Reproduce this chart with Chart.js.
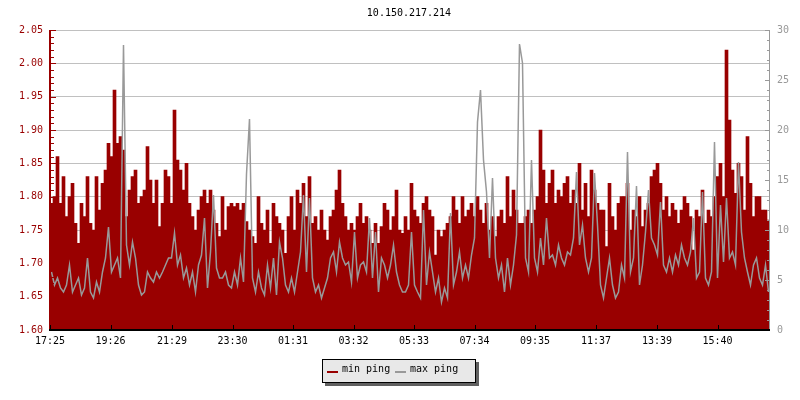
<!DOCTYPE html>
<html>
<head>
<meta charset="utf-8">
<script src="https://cdn.jsdelivr.net/npm/chart.js@4/dist/chart.umd.min.js"></script>
<style>
  html, body { margin: 0; padding: 0; background: #fff; }
  #wrap { position: relative; width: 800px; height: 400px; }
  #c { position: absolute; left: 0; top: 0; }
  .mono { font-family: 'DejaVu Sans Mono', monospace; font-size: 10px; line-height: 12px; color: #000; }
  #title { position: absolute; left: 309px; top: 7px; width: 200px; text-align: center; }
  #legend { position: absolute; left: 322px; top: 359px; width: 154px; height: 24px; box-sizing: border-box;
            border: 1px solid #000; background: #e8e8e8; box-shadow: 3px 3px 0 #606060; }
  #legend .sw { position: absolute; top: 11px; width: 11px; height: 2px; }
  #legend .tx { position: absolute; top: 3px; white-space: pre; }
</style>
</head>
<body>
<div id="wrap">
  <canvas id="c" width="800" height="400"></canvas>
  <div id="title" class="mono">10.150.217.214</div>
  <div id="legend" class="mono">
    <span class="sw" style="left:4px;background:#990000"></span><span class="tx" style="left:19px">min ping</span>
    <span class="sw" style="left:72px;background:#999999"></span><span class="tx" style="left:87px">max ping</span>
  </div>
</div>
<script>
// ---- data (one value per 6-minute column, left to right) ----
const minPing = [
  1.79,1.80,1.86,1.79,1.83,1.77,1.80,1.82,1.76,1.73,
  1.79,1.77,1.83,1.76,1.75,1.83,1.78,1.82,1.84,1.88,
  1.86,1.96,1.88,1.89,1.87,1.77,1.81,1.83,1.84,1.79,
  1.80,1.81,1.875,1.825,1.79,1.825,1.755,1.79,1.84,1.83,
  1.79,1.93,1.855,1.84,1.81,1.85,1.79,1.77,1.75,1.78,
  1.80,1.81,1.79,1.81,1.78,1.76,1.74,1.80,1.75,1.785,
  1.79,1.785,1.79,1.78,1.79,1.7625,1.75,1.74,1.73,1.80,
  1.76,1.75,1.78,1.73,1.79,1.77,1.76,1.75,1.715,1.77,
  1.80,1.75,1.81,1.79,1.82,1.77,1.83,1.76,1.77,1.75,
  1.78,1.75,1.735,1.77,1.78,1.81,1.84,1.79,1.77,1.75,
  1.76,1.75,1.77,1.79,1.76,1.77,1.75,1.73,1.76,1.73,
  1.755,1.79,1.78,1.75,1.77,1.81,1.75,1.745,1.77,1.75,
  1.82,1.78,1.77,1.76,1.79,1.80,1.78,1.77,1.7125,1.75,
  1.74,1.75,1.76,1.77,1.80,1.78,1.76,1.80,1.77,1.78,
  1.79,1.77,1.80,1.78,1.76,1.79,1.75,1.77,1.74,1.77,
  1.78,1.76,1.83,1.77,1.81,1.78,1.76,1.76,1.77,1.78,
  1.76,1.78,1.80,1.90,1.84,1.79,1.82,1.84,1.79,1.81,
  1.80,1.82,1.83,1.79,1.81,1.79,1.85,1.78,1.82,1.77,
  1.84,1.81,1.79,1.78,1.78,1.725,1.82,1.77,1.75,1.79,
  1.80,1.80,1.82,1.75,1.78,1.77,1.80,1.755,1.78,1.79,
  1.83,1.84,1.85,1.82,1.78,1.80,1.77,1.79,1.78,1.76,
  1.78,1.80,1.79,1.77,1.72,1.78,1.77,1.81,1.76,1.78,
  1.77,1.80,1.83,1.85,1.80,2.02,1.915,1.84,1.805,1.85,
  1.83,1.78,1.89,1.82,1.77,1.80,1.80,1.78,1.78,1.765
];
const maxPing = [
  5.8,4.5,5.2,4.2,3.8,4.5,6.5,3.8,4.5,5.2,
  3.5,4.2,7.2,3.8,3.2,4.8,3.8,5.8,7.2,10.3,
  5.8,6.5,7.2,5.2,28.5,8.5,6.5,8.8,7.2,4.5,
  3.5,3.8,5.8,5.2,4.8,5.8,5.2,5.8,6.5,7.2,
  7.2,9.7,6.5,7.5,5.2,6.2,4.5,5.8,3.8,6.5,
  7.5,11.2,4.2,7.8,13.5,6.2,5.2,5.2,5.8,4.5,
  4.2,5.8,4.5,7.2,4.8,15.6,21.1,5.2,3.8,5.8,
  4.2,3.5,6.5,4.2,7.2,3.5,8.8,7.2,4.5,3.8,
  5.2,3.8,5.8,7.8,13.5,5.8,13.2,5.2,3.8,4.5,
  3.2,4.2,5.2,7.2,7.8,5.8,8.8,7.2,6.5,6.8,
  4.8,9.8,5.2,6.5,6.8,5.8,11.2,5.2,9.8,3.8,
  7.2,6.5,5.2,6.5,8.5,5.8,4.5,3.8,3.8,4.5,
  9.8,4.5,3.8,3.2,12.0,4.5,7.8,5.8,3.8,5.2,
  2.8,4.2,3.2,11.7,4.5,5.8,7.8,5.2,6.5,5.2,
  7.5,9.2,20.8,24.0,17.0,13.8,7.2,15.2,7.2,5.2,
  6.5,3.8,7.2,4.5,6.5,9.5,28.6,26.7,7.2,5.8,
  17.0,7.2,5.8,9.2,6.5,11.2,7.2,7.5,6.5,8.5,
  7.2,6.5,7.8,7.5,9.2,15.8,8.5,10.5,7.2,5.8,
  7.2,15.7,10.5,4.5,3.2,5.2,7.2,4.5,3.2,3.8,
  6.5,5.2,17.8,5.8,7.2,14.4,4.5,6.5,9.8,14.0,
  9.2,8.5,7.5,12.8,6.5,5.8,7.2,5.8,7.5,6.5,
  8.5,7.2,6.5,7.8,11.2,5.2,5.8,13.8,5.2,4.5,
  5.8,18.8,5.2,12.5,6.8,13.2,7.2,7.8,6.5,16.8,
  9.8,7.2,5.8,4.5,6.5,7.2,5.2,4.5,6.5,3.8
];
const columnMinutes = 6;           // each value covers 6 minutes
const spanMinutes = 1440;          // 24 hours shown
const timeTickMinutes = [0,121,244,365,486,607,728,849,970,1092,1214,1335];
const timeTickLabels = ['17:25','19:26','21:29','23:30','01:31','03:32','05:33','07:34','09:35','11:37','13:39','15:40'];
const leftMin = 1.60, leftMax = 2.05, leftMinorStep = 0.01, leftMajorStep = 0.05;
const rightMin = 0, rightMax = 30, rightMinorStep = 1, rightMajorStep = 5;

// ---- helpers ----
const RED = '#990000', GRAY = '#999999';
const FONT = { family: "'DejaVu Sans Mono', monospace", size: 10 };
const isMajor = (v, step) => Math.abs(v / step - Math.round(v / step)) < 1e-6;
const makeTicks = (min, max, step) => {
  const out = []; const n = Math.round((max - min) / step);
  for (let k = 0; k <= n; k++) out.push({ value: Math.round((min + k * step) * 1000) / 1000 });
  return out;
};
const toPoints = arr => arr.map((v, i) => ({ x: i * columnMinutes + columnMinutes / 2, y: v }));

const axisDecor = {
  id: 'axisDecor',
  afterDatasetsDraw(chart) {
    const { ctx, chartArea: a, scales } = chart;
    ctx.save();
    ctx.lineWidth = 1;
    const hline = (x1, x2, y) => { ctx.beginPath(); ctx.moveTo(x1, y); ctx.lineTo(x2, y); ctx.stroke(); };
    const vline = (x, y1, y2) => { ctx.beginPath(); ctx.moveTo(x, y1); ctx.lineTo(x, y2); ctx.stroke(); };
    // left axis ticks (inward)
    ctx.strokeStyle = RED;
    scales.y.ticks.forEach(t => {
      const p = Math.round(scales.y.getPixelForValue(t.value)) + 0.5;
      hline(a.left, a.left + (isMajor(t.value, leftMajorStep) ? 6 : 4), p);
    });
    ctx.lineWidth = 2;
    vline(a.left, a.top, a.bottom);
    // right axis ticks (inward)
    ctx.lineWidth = 1;
    ctx.strokeStyle = GRAY;
    scales.y1.ticks.forEach(t => {
      const p = Math.round(scales.y1.getPixelForValue(t.value)) + 0.5;
      hline(a.right - (isMajor(t.value, rightMajorStep) ? 5 : 3), a.right, p);
    });
    vline(Math.round(a.right) - 0.5, a.top, a.bottom);
    // bottom axis ticks (inward)
    ctx.strokeStyle = '#000';
    scales.x.ticks.forEach(t => {
      const p = Math.round(scales.x.getPixelForValue(t.value)) + 0.5;
      vline(p, a.bottom - 5, a.bottom);
    });
    ctx.lineWidth = 2;
    hline(a.left - 1, a.right, a.bottom);
    ctx.restore();
  }
};

new Chart(document.getElementById('c'), {
  type: 'bar',
  data: {
    datasets: [
      {
        type: 'line', label: 'max ping', data: toPoints(maxPing), yAxisID: 'y1',
        borderColor: GRAY, borderWidth: 1.5, pointRadius: 0, tension: 0, fill: false, order: 0,
        borderJoinStyle: 'miter', borderCapStyle: 'butt'
      },
      {
        type: 'bar', label: 'min ping', data: toPoints(minPing), yAxisID: 'y',
        backgroundColor: RED, borderWidth: 0, barPercentage: 1, categoryPercentage: 1,
        grouped: false, clip: 0, order: 1
      }
    ]
  },
  options: {
    responsive: false, animation: false, devicePixelRatio: 1,
    layout: { padding: { top: 30, left: 0, right: 0, bottom: 0 } },
    plugins: { legend: { display: false }, tooltip: { enabled: false }, title: { display: false } },
    scales: {
      x: {
        type: 'linear', min: 0, max: spanMinutes, offset: false,
        grid: { display: false, drawTicks: false }, border: { display: false },
        afterBuildTicks: s => { s.ticks = timeTickMinutes.map(v => ({ value: v })); },
        ticks: {
          autoSkip: false, maxRotation: 0, color: '#000', font: FONT, padding: 5,
          callback: v => { const k = timeTickMinutes.indexOf(v); return k >= 0 ? timeTickLabels[k] : ''; }
        },
        afterFit: s => { s.height = 70; }
      },
      y: {
        type: 'linear', position: 'left', min: leftMin, max: leftMax,
        grid: {
          drawTicks: false,
          color: c => (c.tick && isMajor(c.tick.value, leftMajorStep)) ? '#c0c0c0' : 'rgba(0,0,0,0)'
        },
        border: { display: false },
        afterBuildTicks: s => { s.ticks = makeTicks(leftMin, leftMax, leftMinorStep); },
        ticks: {
          autoSkip: false, color: RED, font: FONT, padding: 7,
          callback: v => isMajor(v, leftMajorStep) ? v.toFixed(2) : ''
        },
        afterFit: s => { s.width = 50; }
      },
      y1: {
        type: 'linear', position: 'right', min: rightMin, max: rightMax,
        grid: { display: false, drawTicks: false }, border: { display: false },
        afterBuildTicks: s => { s.ticks = makeTicks(rightMin, rightMax, rightMinorStep); },
        ticks: {
          autoSkip: false, color: GRAY, font: FONT, padding: 7,
          callback: v => isMajor(v, rightMajorStep) ? String(Math.round(v)) : ''
        },
        afterFit: s => { s.width = 30; }
      }
    }
  },
  plugins: [axisDecor]
});
</script>
</body>
</html>
